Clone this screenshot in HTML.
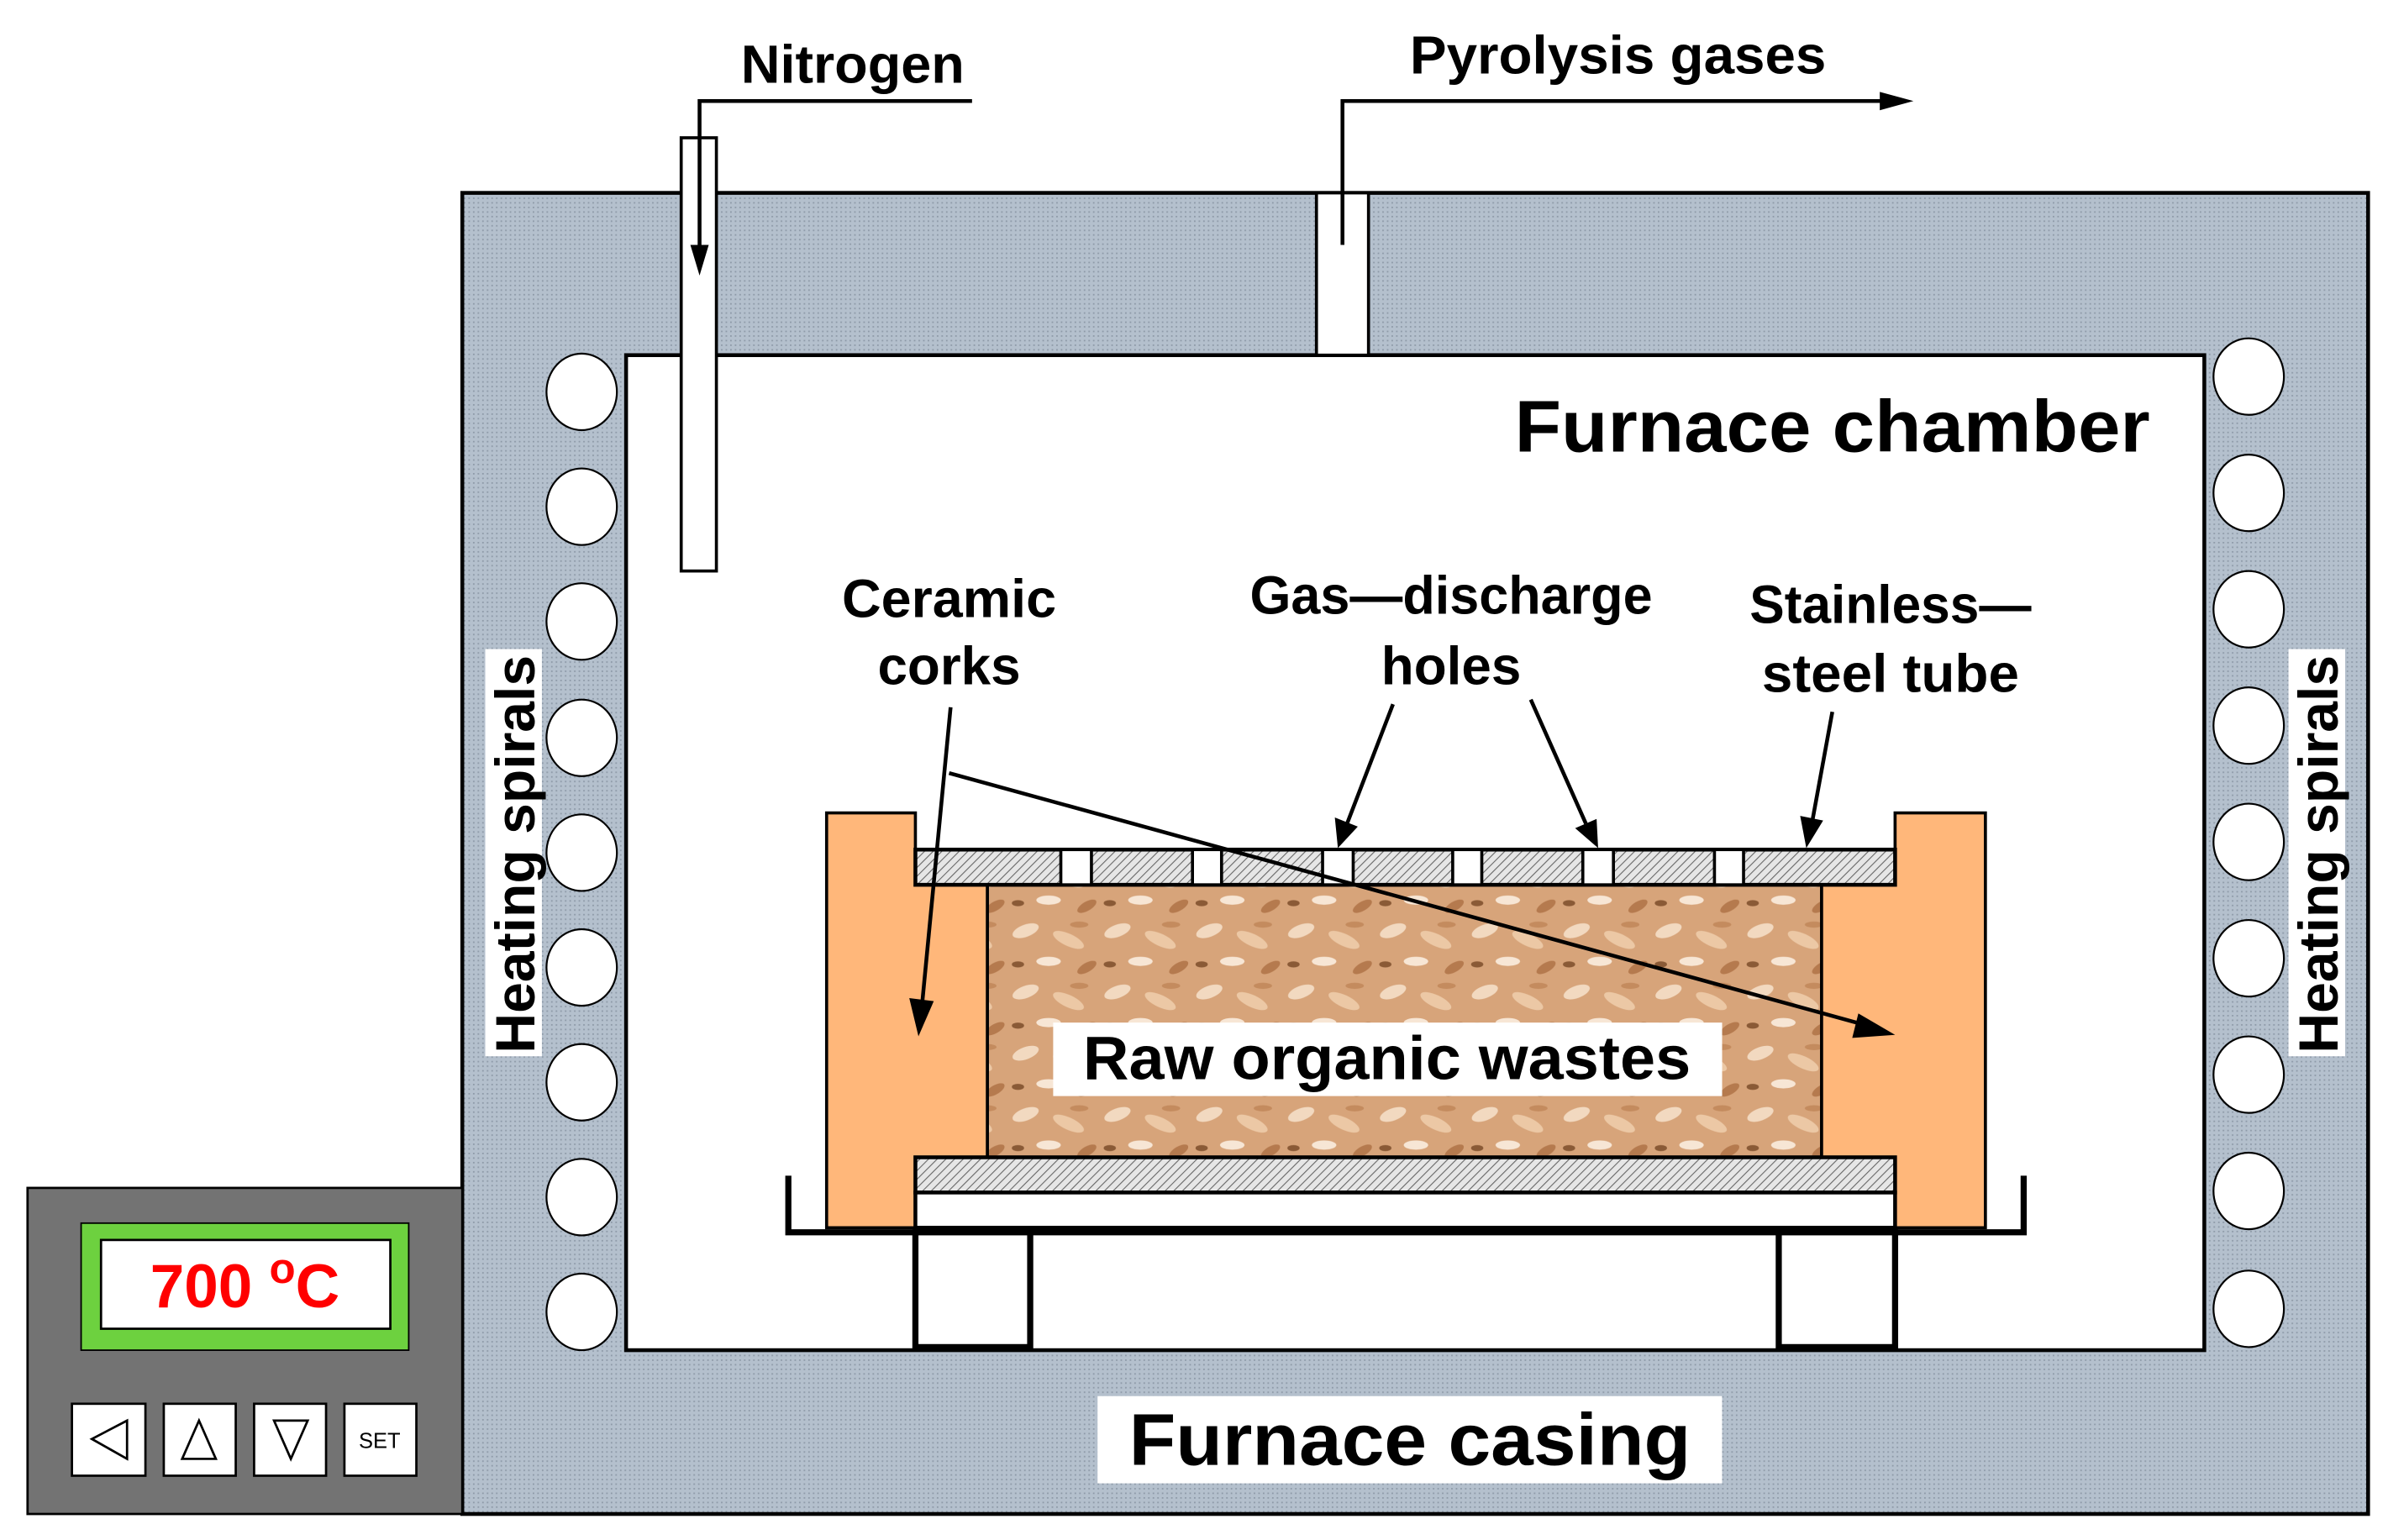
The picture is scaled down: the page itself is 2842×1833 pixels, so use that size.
<!DOCTYPE html>
<html><head><meta charset="utf-8"><style>
html,body{margin:0;padding:0;background:#fff}
svg{display:block}
text{font-family:"Liberation Sans",Arial,sans-serif;font-weight:bold}
</style></head><body>
<svg width="2842" height="1833" viewBox="0 0 1560 1006" preserveAspectRatio="none" xmlns="http://www.w3.org/2000/svg">
<defs>
<pattern id="hatch" width="4" height="4" patternUnits="userSpaceOnUse" patternTransform="rotate(45)">
<rect width="4" height="4" fill="#e6e6e6"/><line x1="0" y1="0" x2="0" y2="4" stroke="#666" stroke-width="1.2"/>
</pattern>
<pattern id="cas" width="3" height="3" patternUnits="userSpaceOnUse">
<rect width="3" height="3" fill="#b4c0cd"/><rect width="1" height="1" fill="#8e9aa8"/>
</pattern>
<pattern id="saw" width="60" height="40" patternUnits="userSpaceOnUse">
<rect width="60" height="40" fill="#d7a47a"/>
<ellipse cx="10" cy="8" rx="9" ry="4" fill="#f2d9c0" transform="rotate(-20 10 8)"/>
<ellipse cx="38" cy="14" rx="11" ry="4" fill="#ecc8a5" transform="rotate(25 38 14)"/>
<ellipse cx="25" cy="28" rx="8" ry="3" fill="#f7e6d5"/>
<ellipse cx="50" cy="32" rx="7" ry="3" fill="#b57a4e" transform="rotate(-30 50 32)"/>
<ellipse cx="5" cy="30" rx="4" ry="2" fill="#8a5a36"/>
<ellipse cx="45" cy="4" rx="6" ry="2" fill="#c48b5e"/>
</pattern>
</defs>

<rect x="302" y="126" width="1245" height="863" fill="url(#cas)" stroke="#000" stroke-width="2.5"/>
<rect x="409" y="232" width="1031" height="650" fill="#fff" stroke="#000" stroke-width="2.5"/>

<g fill="#fff" stroke="#000" stroke-width="1.2">
<ellipse cx="380" cy="256" rx="23" ry="25"/><ellipse cx="380" cy="331" rx="23" ry="25"/><ellipse cx="380" cy="406" rx="23" ry="25"/><ellipse cx="380" cy="482" rx="23" ry="25"/><ellipse cx="380" cy="557" rx="23" ry="25"/><ellipse cx="380" cy="632" rx="23" ry="25"/><ellipse cx="380" cy="707" rx="23" ry="25"/><ellipse cx="380" cy="782" rx="23" ry="25"/><ellipse cx="380" cy="857" rx="23" ry="25"/>
<ellipse cx="1469" cy="246" rx="23" ry="25"/><ellipse cx="1469" cy="322" rx="23" ry="25"/><ellipse cx="1469" cy="398" rx="23" ry="25"/><ellipse cx="1469" cy="474" rx="23" ry="25"/><ellipse cx="1469" cy="550" rx="23" ry="25"/><ellipse cx="1469" cy="626" rx="23" ry="25"/><ellipse cx="1469" cy="702" rx="23" ry="25"/><ellipse cx="1469" cy="778" rx="23" ry="25"/><ellipse cx="1469" cy="855" rx="23" ry="25"/>
</g>

<rect x="317" y="424" width="37" height="266" fill="#fff"/>
<text transform="translate(349 688) rotate(-90)" font-size="36" textLength="260" lengthAdjust="spacingAndGlyphs">Heating spirals</text>
<rect x="1495" y="424" width="37" height="266" fill="#fff"/>
<text transform="translate(1527 688) rotate(-90)" font-size="36" textLength="260" lengthAdjust="spacingAndGlyphs">Heating spirals</text>

<rect x="18" y="776" width="284" height="213" fill="#737373" stroke="#000" stroke-width="1.5"/>
<rect x="53" y="799" width="214" height="83" fill="#6dd13f" stroke="#000" stroke-width="1"/>
<rect x="66" y="810" width="189" height="58" fill="#fff" stroke="#000" stroke-width="1.5"/>
<text x="160" y="854" font-size="40" fill="#f00" text-anchor="middle">700 <tspan font-size="28" dy="-16">o</tspan><tspan dy="16">C</tspan></text>
<g fill="#fff" stroke="#000" stroke-width="1.5">
<rect x="47" y="917" width="48" height="47"/><rect x="107" y="917" width="47" height="47"/><rect x="166" y="917" width="47" height="47"/><rect x="225" y="917" width="47" height="47"/>
</g>
<g fill="none" stroke="#000" stroke-width="1.5">
<polygon points="83,928 60,940 83,953"/><polygon points="130,928 119,953 141,953"/><polygon points="179,928 201,928 190,953"/>
</g>
<text x="248" y="946" font-size="14" text-anchor="middle" style="font-weight:normal">SET</text>

<rect x="445" y="90" width="23" height="283" fill="#fff" stroke="#000" stroke-width="2"/>
<polyline points="635,66 457,66 457,165" fill="none" stroke="#000" stroke-width="2.5"/>
<polygon points="451,160 463,160 457,180" fill="#000"/>
<text x="557" y="54" font-size="35" text-anchor="middle" textLength="146" lengthAdjust="spacingAndGlyphs">Nitrogen</text>

<rect x="860" y="126" width="34" height="106" fill="#fff" stroke="#000" stroke-width="2"/>
<polyline points="877,160 877,66 1232,66" fill="none" stroke="#000" stroke-width="2.5"/>
<polygon points="1228,60 1250,66 1228,72" fill="#000"/>
<text x="1057" y="48" font-size="35" text-anchor="middle" textLength="272" lengthAdjust="spacingAndGlyphs">Pyrolysis gases</text>

<text x="1197" y="295" font-size="48" text-anchor="middle" textLength="415" lengthAdjust="spacingAndGlyphs">Furnace chamber</text>

<polyline points="515,768 515,805 1322,805 1322,768" fill="none" stroke="#000" stroke-width="4"/>
<rect x="598" y="805" width="75" height="75" fill="#fff" stroke="#000" stroke-width="4"/>
<rect x="1162" y="805" width="76" height="75" fill="#fff" stroke="#000" stroke-width="4"/>

<rect x="645" y="578" width="545" height="178" fill="url(#saw)" stroke="#000" stroke-width="2"/>

<path d="M540,531 H598 V578 H645 V756 H598 V802 H540 Z" fill="#ffb77a" stroke="#000" stroke-width="2"/>
<path d="M1297,531 H1238 V578 H1190 V756 H1238 V802 H1297 Z" fill="#ffb77a" stroke="#000" stroke-width="2"/>

<rect x="598" y="555" width="640" height="23" fill="url(#hatch)" stroke="#000" stroke-width="2.5"/>
<g fill="#fff" stroke="#000" stroke-width="2">
<rect x="693" y="555" width="20" height="23"/><rect x="779" y="555" width="19" height="23"/><rect x="864" y="555" width="20" height="23"/><rect x="949" y="555" width="19" height="23"/><rect x="1034" y="555" width="20" height="23"/><rect x="1120" y="555" width="19" height="23"/>
</g>
<rect x="598" y="756" width="640" height="23" fill="url(#hatch)" stroke="#000" stroke-width="2.5"/>
<rect x="598" y="779" width="640" height="23" fill="#fff" stroke="#000" stroke-width="2.5"/>

<rect x="688" y="668" width="437" height="48" fill="#fff"/>
<text x="906" y="705" font-size="40" text-anchor="middle" textLength="397" lengthAdjust="spacingAndGlyphs">Raw organic wastes</text>

<g font-size="35" text-anchor="middle">
<text x="620" y="403" textLength="140" lengthAdjust="spacingAndGlyphs">Ceramic</text><text x="620" y="447">corks</text>
<text x="948" y="401" textLength="263" lengthAdjust="spacingAndGlyphs">Gas—discharge</text><text x="948" y="447">holes</text>
<text x="1235" y="407" textLength="184" lengthAdjust="spacingAndGlyphs">Stainless—</text><text x="1235" y="452" textLength="168" lengthAdjust="spacingAndGlyphs">steel tube</text>
</g>

<g stroke="#000" stroke-width="2.5" fill="none">
<line x1="621" y1="462" x2="602" y2="660"/>
<line x1="620" y1="505" x2="1220" y2="670"/>
<line x1="910" y1="460" x2="880" y2="538"/>
<line x1="1000" y1="457" x2="1036" y2="538"/>
<line x1="1197" y1="465" x2="1184" y2="536"/>
</g>
<g fill="#000">
<polygon points="594,652 610,654 600,677"/>
<polygon points="1214,662 1210,678 1238,676"/>
<polygon points="872,534 887,540 874,554"/>
<polygon points="1029,541 1043,535 1044,554"/>
<polygon points="1176,533 1191,536 1180,554"/>
</g>

<rect x="717" y="912" width="408" height="57" fill="#fff"/>
<text x="921" y="957" font-size="48" text-anchor="middle" textLength="367" lengthAdjust="spacingAndGlyphs">Furnace casing</text>
</svg>
</body></html>
